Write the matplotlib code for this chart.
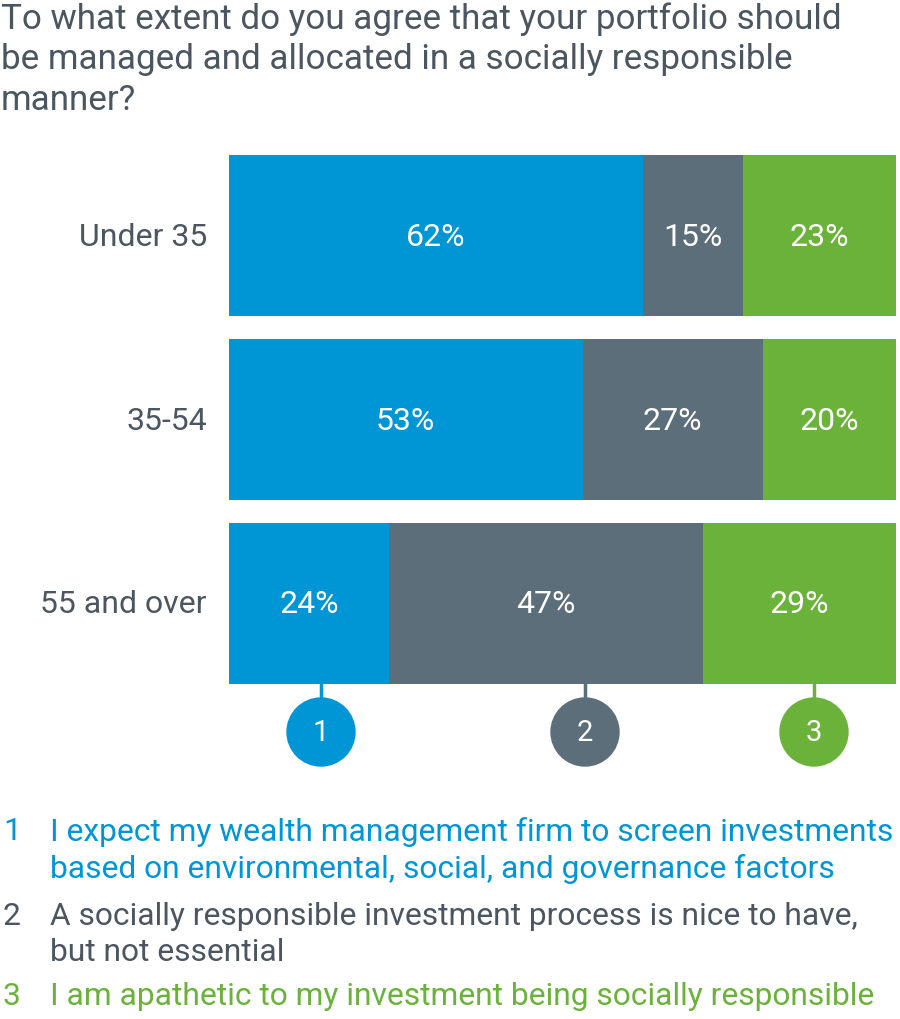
import matplotlib
matplotlib.use('Agg')
import matplotlib.pyplot as plt
from matplotlib import font_manager
from matplotlib.patches import Circle

names = {f.name for f in font_manager.fontManager.ttflist}
fam = 'Liberation Sans Narrow' if 'Liberation Sans Narrow' in names else 'Roboto'
plt.rcParams['font.family'] = [fam, 'DejaVu Sans']

groups = ['Under 35', '35-54', '55 and over']
expect = [62, 53, 24]
nice = [15, 27, 47]
apathetic = [23, 20, 29]
answers = ['I expect my wealth management firm to screen investments\nbased on environmental, social, and governance factors',
           'A socially responsible investment process is nice to have,\nbut not essential',
           'I am apathetic to my investment being socially responsible']
title = ('To what extent do you agree that your portfolio should\n'
         'be managed and allocated in a socially responsible\nmanner?')

blue = '#0096d6'
grey = '#5c6e7a'
green = '#6bb23b'
txt = '#4b5661'
colors = [blue, grey, green]

W, H = 900, 1019
fig = plt.figure(figsize=(9, 10.19), dpi=100)

# overlay in pixel coords
ov = fig.add_axes([0, 0, 1, 1])
ov.set_xlim(0, W)
ov.set_ylim(H, 0)
ov.axis('off')

# bar axes
top, bot = 143.75, 695.0
ax = fig.add_axes([229 / W, 1 - bot / H, 667 / W, (bot - top) / H])
ax.set_xlim(0, 100)
ax.set_ylim(2.5, -0.5)
ax.axis('off')

ypos = range(len(groups))
left = [0] * len(groups)
for vals, c in zip([expect, nice, apathetic], colors):
    ax.barh(ypos, vals, left=left, height=0.876, color=c)
    for y, v, l in zip(ypos, vals, left):
        ax.text(l + v / 2, y + 0.01, f'{v}%', color='white', ha='center', va='center', fontsize=23)
    left = [l + v for l, v in zip(left, vals)]

for y, g in zip(ypos, groups):
    ax.text(-3.3, y + 0.01, g, ha='right', va='center', fontsize=23, color=txt)

ov.text(1, 2, title, ha='left', va='top', fontsize=25.2, color=txt, linespacing=1.3)

# numbered markers
for i, (x, c) in enumerate(zip([321, 585, 814], colors)):
    ov.plot([x, x], [684, 700], color=c, lw=2.5)
    ov.add_patch(Circle((x, 732), 34, color=c))
    ov.text(x, 733, str(i + 1), color='white', ha='center', va='center', fontsize=21)

# key
for i, (y, a, c) in enumerate(zip([817, 902, 982], answers, [blue, txt, green])):
    ov.text(3, y, str(i + 1), color=c, fontsize=22.9, va='top', ha='left')
    ov.text(50, y, a, color=c, fontsize=22.9, va='top', ha='left', linespacing=1.3)

fig.savefig('out.png', dpi=100)
